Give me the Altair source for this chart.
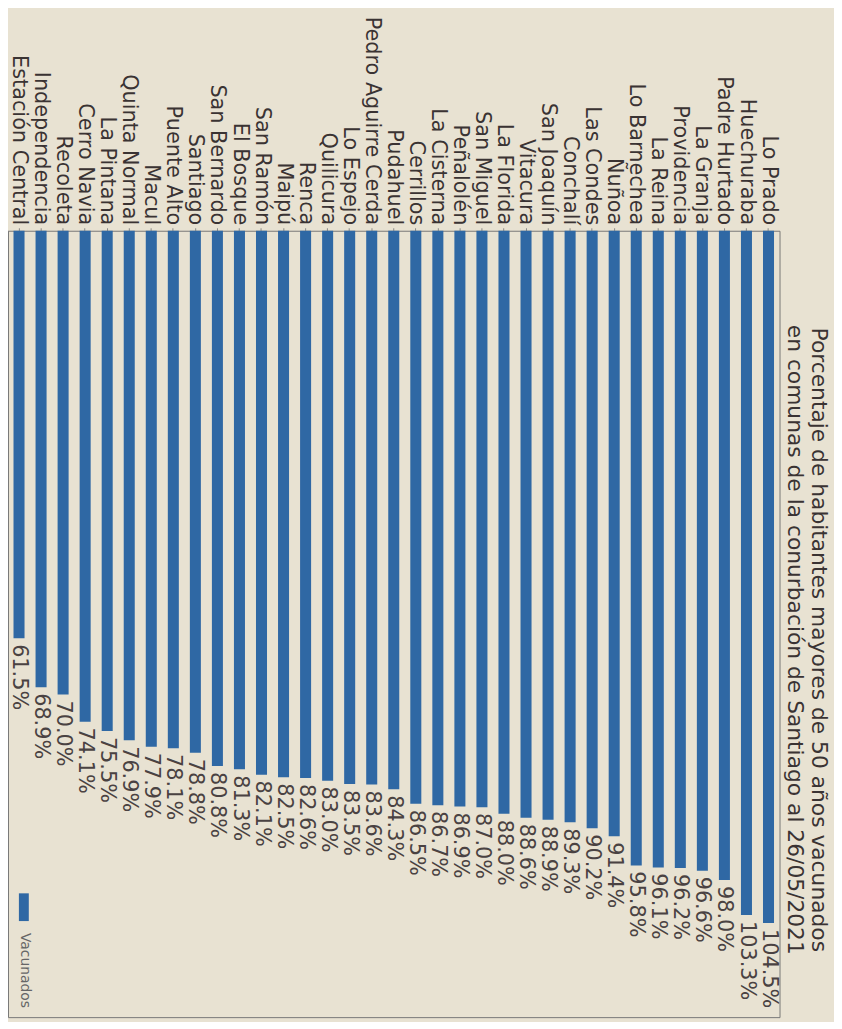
import altair as alt
import pandas as pd

comunas = ["Lo Prado", "Huechuraba", "Padre Hurtado", "La Granja", "Providencia", "La Reina",
           "Lo Barnechea", "Ñuñoa", "Las Condes", "Conchalí", "San Joaquín", "Vitacura",
           "La Florida", "San Miguel", "Peñalolén", "La Cisterna", "Cerrillos", "Pudahuel",
           "Pedro Aguirre Cerda", "Lo Espejo", "Quilicura", "Renca", "Maipú", "San Ramón",
           "El Bosque", "San Bernardo", "Santiago", "Puente Alto", "Macul", "Quinta Normal",
           "La Pintana", "Cerro Navia", "Recoleta", "Independencia", "Estación Central"]
vacunados = [104.5, 103.3, 98.0, 96.6, 96.2, 96.1, 95.8, 91.4, 90.2, 89.3, 88.9, 88.6,
             88.0, 87.0, 86.9, 86.7, 86.5, 84.3, 83.6, 83.5, 83.0, 82.6, 82.5, 82.1,
             81.3, 80.8, 78.8, 78.1, 77.9, 76.9, 75.5, 74.1, 70.0, 68.9, 61.5]
title_lines = ["Porcentaje de habitantes mayores de 50 años vacunados",
               "en comunas de la conurbación de Santiago al 26/05/2021"]
legend_label = "Vacunados"

df = pd.DataFrame({"comuna": comunas, "valor": vacunados})
df["etiqueta"] = df["valor"].map(lambda v: f"{v:.1f}%")

order = list(reversed(comunas))
FONT = "DejaVu Sans"
BLUE = "#2f68a4"

x = alt.X("comuna:N", sort=order, title=None,
          scale=alt.Scale(paddingInner=0.5, paddingOuter=0.25),
          axis=alt.Axis(orient="top", labelAngle=90, labelAlign="right", labelBaseline="middle",
                        labelFontSize=21, labelFont=FONT, labelColor="#3a3333",
                        labelOverlap=False, labelLimit=0, labelPadding=3, tickSize=3,
                        tickColor="#888", domain=False))
y = alt.Y("valor:Q", title=None,
          scale=alt.Scale(domain=[0, 118.7], nice=False, reverse=True),
          axis=alt.Axis(orient="left", labels=False, tickSize=5, tickColor="#777",
                        values=[0, 20, 40, 60, 80, 100], grid=False, domain=False))

bars = alt.Chart(df).mark_bar(color=BLUE).encode(x=x, y=y)
labels = alt.Chart(df).mark_text(angle=90, align="left", baseline="middle", dx=6,
                                 fontSize=21, font=FONT, color="#4a4242").encode(
    x=alt.X("comuna:N", sort=order), y=alt.Y("valor:Q"), text="etiqueta:N")

leg = pd.DataFrame({"t": [legend_label]})
leg_rect = alt.Chart(leg).mark_rect(color=BLUE).encode(
    x=alt.value(11), x2=alt.value(21), y=alt.value(669), y2=alt.value(697))
leg_text = alt.Chart(leg).mark_text(angle=90, align="left", baseline="middle",
                                    fontSize=14, font=FONT, color="#666").encode(
    x=alt.value(17), y=alt.value(709), text="t:N")

chart = alt.layer(bars, labels, leg_rect, leg_text).properties(
    width=779, height=794,
    autosize=alt.AutoSizeParams(type="none"),
    padding={"left": 0, "top": 220, "right": 55, "bottom": 0},
    title=alt.TitleParams(text=title_lines, orient="right", anchor="middle",
                          fontSize=22, font=FONT, fontWeight="normal", color="#3a3333",
                          offset=4, lineHeight=24, dx=16),
).configure(background="#e8e2d2").configure_view(stroke="#777", strokeWidth=1, fill="#e8e2d2")

chart.save("out.html", embed_options={"renderer": "svg", "actions": False})
